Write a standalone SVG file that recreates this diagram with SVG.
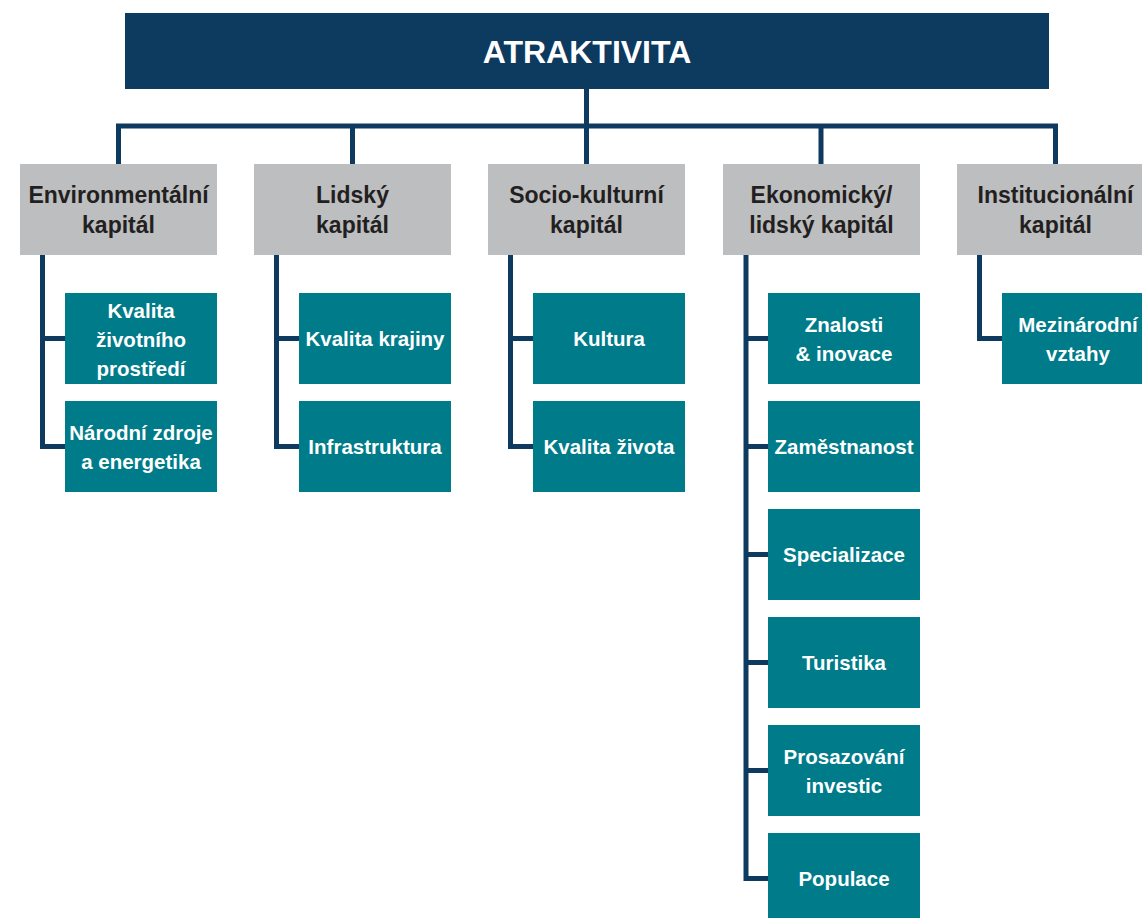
<svg xmlns="http://www.w3.org/2000/svg" width="1142" height="918" viewBox="0 0 1142 918">
<style>
.title{fill:#0d3a5f}
.cat{fill:#bcbec0}
.sub{fill:#007b8a}
.line{fill:none;stroke:#0e3a5f;stroke-width:5;stroke-linejoin:miter;stroke-linecap:butt}
text{font-family:"Liberation Sans",Arial,sans-serif;font-weight:bold;text-anchor:middle}
.tt{fill:#ffffff;font-size:32px}
.ct{fill:#231f20;font-size:23px}
.st{fill:#ffffff;font-size:20.5px}
</style>
<rect width="1142" height="918" fill="#ffffff"/>
<g id="connectors">
<path class="line" d="M118.5,164 V126 H1055.5 V164"/>
<path class="line" d="M352.5,126 V164"/>
<path class="line" d="M586.5,88 V164"/>
<path class="line" d="M821,126 V164"/>
<path class="line" d="M42.5,255 V446.5 H65 M42.5,338.5 H65"/>
<path class="line" d="M276.5,255 V446.5 H299 M276.5,338.5 H299"/>
<path class="line" d="M510.5,255 V446.5 H533 M510.5,338.5 H533"/>
<path class="line" d="M746,255 V878.5 H768 M746,338.5 H768 M746,446.5 H768 M746,554.5 H768 M746,662.5 H768 M746,770.5 H768"/>
<path class="line" d="M979.5,255 V338.5 H1002"/>
</g>
<g id="atraktivita">
<rect class="title" x="125" y="13" width="924" height="76"/>
<text class="tt" x="587" y="63">ATRAKTIVITA</text>
</g>
<g id="environmentalni">
<rect class="cat" x="20" y="164" width="197" height="91"/>
<text class="ct" x="118.5" y="203">Environmentální</text>
<text class="ct" x="118.5" y="233">kapitál</text>
</g>
<g id="lidsky">
<rect class="cat" x="254" y="164" width="197" height="91"/>
<text class="ct" x="352.5" y="203">Lidský</text>
<text class="ct" x="352.5" y="233">kapitál</text>
</g>
<g id="sociokulturni">
<rect class="cat" x="488" y="164" width="197" height="91"/>
<text class="ct" x="586.5" y="203">Socio-kulturní</text>
<text class="ct" x="586.5" y="233">kapitál</text>
</g>
<g id="ekonomicky">
<rect class="cat" x="723" y="164" width="197" height="91"/>
<text class="ct" x="821.5" y="203">Ekonomický/</text>
<text class="ct" x="821.5" y="233">lidský kapitál</text>
</g>
<g id="institucionalni">
<rect class="cat" x="957" y="164" width="197" height="91"/>
<text class="ct" x="1055.5" y="203">Institucionální</text>
<text class="ct" x="1055.5" y="233">kapitál</text>
</g>
<g id="kvalita-zp">
<rect class="sub" x="65" y="293" width="152" height="91"/>
<text class="st" x="141" y="318">Kvalita</text>
<text class="st" x="141" y="347">životního</text>
<text class="st" x="141" y="376">prostředí</text>
</g>
<g id="narodni-zdroje">
<rect class="sub" x="65" y="401" width="152" height="91"/>
<text class="st" x="141" y="440">Národní zdroje</text>
<text class="st" x="141" y="469">a energetika</text>
</g>
<g id="kvalita-krajiny">
<rect class="sub" x="299" y="293" width="152" height="91"/>
<text class="st" x="375" y="346">Kvalita krajiny</text>
</g>
<g id="infrastruktura">
<rect class="sub" x="299" y="401" width="152" height="91"/>
<text class="st" x="375" y="454">Infrastruktura</text>
</g>
<g id="kultura">
<rect class="sub" x="533" y="293" width="152" height="91"/>
<text class="st" x="609" y="346">Kultura</text>
</g>
<g id="kvalita-zivota">
<rect class="sub" x="533" y="401" width="152" height="91"/>
<text class="st" x="609" y="454">Kvalita života</text>
</g>
<g id="znalosti">
<rect class="sub" x="768" y="293" width="152" height="91"/>
<text class="st" x="844" y="332">Znalosti</text>
<text class="st" x="844" y="361">&amp; inovace</text>
</g>
<g id="zamestnanost">
<rect class="sub" x="768" y="401" width="152" height="91"/>
<text class="st" x="844" y="454">Zaměstnanost</text>
</g>
<g id="specializace">
<rect class="sub" x="768" y="509" width="152" height="91"/>
<text class="st" x="844" y="562">Specializace</text>
</g>
<g id="turistika">
<rect class="sub" x="768" y="617" width="152" height="91"/>
<text class="st" x="844" y="670">Turistika</text>
</g>
<g id="prosazovani">
<rect class="sub" x="768" y="725" width="152" height="91"/>
<text class="st" x="844" y="764">Prosazování</text>
<text class="st" x="844" y="793">investic</text>
</g>
<g id="populace">
<rect class="sub" x="768" y="833" width="152" height="91"/>
<text class="st" x="844" y="886">Populace</text>
</g>
<g id="mezinarodni">
<rect class="sub" x="1002" y="293" width="152" height="91"/>
<text class="st" x="1078" y="332">Mezinárodní</text>
<text class="st" x="1078" y="361">vztahy</text>
</g>
</svg>
